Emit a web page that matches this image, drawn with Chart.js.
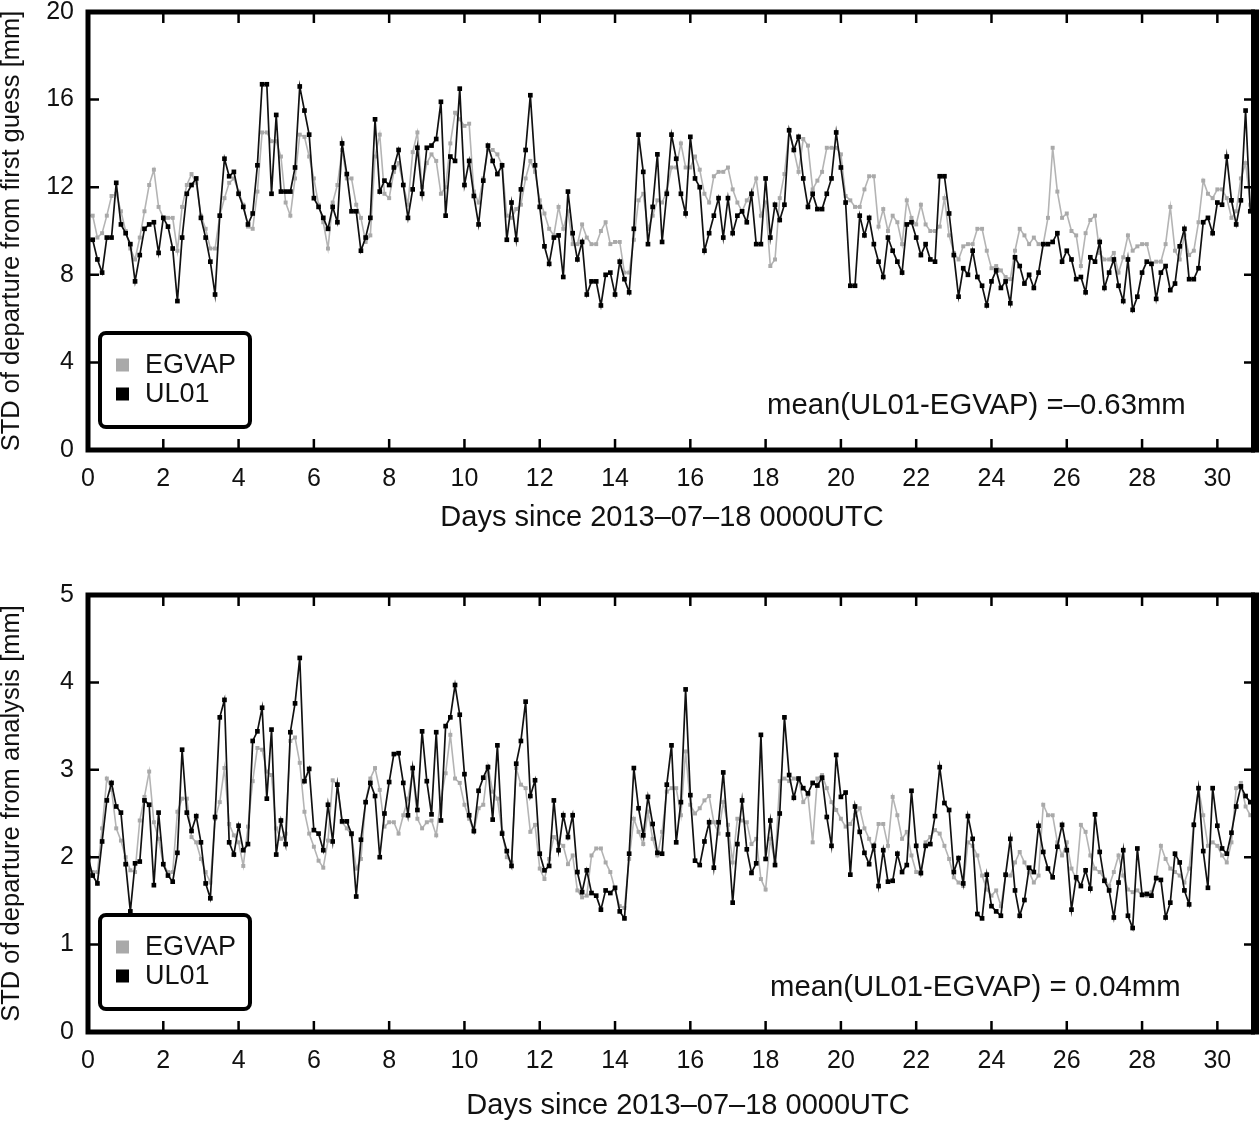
<!DOCTYPE html>
<html>
<head>
<meta charset="utf-8">
<title>STD of departures EGVAP / UL01</title>
<script src="https://cdn.jsdelivr.net/npm/chart.js@4.4.0/dist/chart.umd.min.js"></script>
<style>
  html, body { margin: 0; padding: 0; background: #fff; }
  #wrap { position: relative; width: 1260px; height: 1132px; }
  .panel { position: absolute; left: 0; }
  #p1 { top: 0; }
  #p2 { top: 560px; }
</style>
</head>
<body>
<div id="wrap">
  <div class="panel" id="p1"><canvas id="fgChart" width="1260" height="560"></canvas></div>
  <div class="panel" id="p2"><canvas id="anChart" width="1260" height="572"></canvas></div>
</div>
<script>
// 3-hourly values, first sample at 2013-07-18 00 UTC
const stepDays = 0.125;
const xTicks = [0, 2, 4, 6, 8, 10, 12, 14, 16, 18, 20, 22, 24, 26, 28, 30];

// STD of departure from first guess [mm]
const fgEGVAP = [
  10.7, 10.7, 9.7, 9.9, 10.7, 11.6, 11.7, 10.9, 10.0, 9.2,
  8.7, 9.7, 10.9, 12.1, 12.8, 11.1, 10.6, 10.6, 10.6, 9.1,
  11.1, 12.1, 12.6, 12.2, 10.7, 10.1, 9.2, 9.2, 10.7, 11.5,
  12.2, 12.4, 11.8, 11.2, 10.2, 10.1, 11.8, 14.5, 14.5, 14.1,
  14.1, 13.4, 11.3, 10.7, 12.4, 14.4, 14.3, 13.4, 12.4, 11.2,
  10.4, 9.2, 11.3, 12.1, 13.7, 12.4, 12.4, 11.2, 10.6, 9.5,
  9.8, 13.4, 14.4, 11.7, 11.5,
  12.7, 13.1, 12.1, 11.2, 13.6, 14.5, 12.0, 13.1, 13.5, 13.2,
  11.7, 12.0, 14.0, 15.4, 15.1, 14.8, 14.9, 11.8, 11.3, 12.4,
  13.7, 13.7, 13.5, 13.0, 10.7, 10.6, 11.0, 11.2, 12.4, 13.2,
  12.7, 11.4, 10.8, 10.1, 9.8, 11.1, 10.1, 10.9, 9.4, 9.4,
  10.3, 9.7, 9.4, 9.4, 10.0, 10.4, 9.4, 9.5, 9.5, 8.1,
  8.1, 9.6, 11.4, 11.7, 10.1, 10.7, 11.4, 11.3, 11.8, 12.9,
  12.9, 14.0, 12.9, 12.9,
  13.4, 12.8, 11.7, 11.3, 12.5, 12.7, 12.7, 12.9, 11.9, 11.3,
  10.9, 11.4, 11.7, 12.4, 10.7, 11.3, 8.4, 8.7, 11.5, 12.6,
  14.6, 13.7, 12.7, 14.2, 13.9, 11.9, 12.3, 12.7, 13.8, 13.8,
  13.8, 13.5, 11.6, 11.4, 11.1, 11.1, 11.9, 12.5, 12.5, 10.2,
  11.0, 10.0, 10.7, 10.4, 9.4, 11.4, 10.6, 10.3, 11.2, 10.3,
  10.0, 10.0, 10.2, 11.5, 9.8, 9.0, 8.7, 9.3, 9.4,
  9.4, 10.1, 10.1, 9.1, 8.3, 8.4, 8.2, 7.9, 7.8, 9.1,
  10.1, 9.8, 9.4, 9.7, 9.4, 9.4, 10.6, 13.8, 11.8, 10.6,
  10.8, 10.0, 9.8, 8.4, 9.9, 10.5, 10.7, 9.0, 8.7, 8.7,
  9.0, 8.1, 8.8, 9.8, 9.1, 9.3, 9.4, 9.4, 8.5, 8.6,
  8.6, 9.4, 11.1, 9.1, 8.7, 9.8, 8.9, 9.1, 10.4, 12.3,
  11.7, 11.5, 11.9, 11.9, 11.5, 10.6, 10.9, 12.4, 13.1, 11.2
];
const fgUL01 = [
  9.6, 9.6, 8.7, 8.1, 9.7, 9.7, 12.2, 10.3, 9.9, 9.4,
  7.7, 8.9, 10.1, 10.3, 10.4, 9.0, 10.6, 10.2, 9.2, 6.8,
  9.7, 11.7, 12.1, 12.4, 10.6, 9.7, 8.6, 7.1, 10.7, 13.3,
  12.5, 12.7, 11.7, 11.1, 10.3, 10.8, 13.0, 16.7, 16.7, 11.7,
  15.3, 11.8, 11.8, 11.8, 12.9, 16.6, 15.5, 14.4, 11.5, 11.1,
  10.6, 10.1, 11.1, 10.4, 14.0, 12.6, 10.9, 10.9, 9.1, 9.7,
  10.6, 15.1, 11.8, 12.3, 12.1,
  12.9, 13.7, 12.1, 10.6, 11.9, 13.8, 11.7, 13.8, 13.9, 14.2,
  15.9, 10.7, 13.4, 13.2, 16.5, 12.1, 13.2, 11.6, 10.3, 12.3,
  13.9, 13.2, 12.6, 13.0, 9.6, 11.3, 9.6, 11.9, 13.7, 16.2,
  13.0, 11.1, 9.3, 8.5, 9.7, 9.8, 7.9, 11.8, 9.9, 8.7,
  9.5, 7.1, 7.7, 7.7, 6.6, 8.0, 8.1, 7.1, 8.6, 7.8,
  7.2, 10.1, 14.4, 12.7, 9.4, 11.1, 13.5, 9.5, 11.7, 14.4,
  13.3, 11.7, 10.8, 14.3,
  12.4, 12.0, 9.1, 9.9, 10.7, 11.5, 9.7, 11.5, 9.9, 10.7,
  10.9, 10.4, 11.7, 9.4, 9.4, 12.4, 9.7, 11.2, 10.5, 11.2,
  14.6, 13.7, 14.3, 12.4, 11.1, 11.7, 11.0, 11.0, 11.7, 12.4,
  14.5, 12.9, 11.3, 7.5, 7.5, 10.7, 9.8, 10.6, 9.4, 8.6,
  7.9, 9.7, 9.1, 8.6, 8.1, 10.3, 10.4, 9.7, 8.9, 9.4,
  8.7, 8.6, 12.5, 12.5, 10.8, 8.9, 7.0, 8.3, 8.0,
  9.1, 7.9, 7.5, 6.6, 7.7, 8.2, 7.4, 7.7, 6.7, 8.8,
  8.4, 7.6, 8.0, 7.4, 8.1, 9.4, 9.4, 9.5, 9.9, 8.6,
  9.1, 8.7, 7.8, 7.9, 7.2, 8.8, 8.6, 9.5, 7.4, 8.1,
  8.7, 7.5, 6.8, 8.7, 6.4, 7.0, 8.1, 8.6, 8.5, 6.9,
  8.1, 8.4, 7.3, 7.6, 9.3, 10.1, 7.8, 7.8, 8.3, 10.4,
  10.6, 9.9, 11.3, 11.2, 13.4, 11.4, 10.3, 11.4, 15.5, 10.9
];

// STD of departure from analysis [mm]
const anEGVAP = [
  1.87, 1.83, 1.83, 2.33, 2.90, 2.77, 2.33, 2.19, 2.00, 1.85,
  1.83, 2.42, 2.69, 2.98, 2.40, 2.21, 1.92, 1.83, 1.83, 2.52,
  2.67, 2.67, 2.23, 2.17, 1.98, 1.83, 1.71, 2.44, 2.63, 3.02,
  2.38, 2.25, 2.17, 1.90, 2.35, 2.87, 3.25, 3.23, 2.98, 2.94,
  2.33, 2.21, 2.27, 3.33, 3.37, 3.08, 2.52, 2.27, 2.12, 1.96,
  1.88, 2.19, 2.88, 2.83, 2.40, 2.33, 2.25, 1.87, 1.98, 2.63,
  2.90, 3.02, 2.77, 2.35,
  2.40, 2.40, 2.27, 2.48, 2.67, 2.98, 2.44, 2.33, 2.40, 2.42,
  2.25, 2.67, 2.96, 3.40, 2.90, 2.85, 2.60, 2.44, 2.29, 2.56,
  2.60, 3.04, 2.75, 2.67, 2.29, 2.00, 1.94, 3.02, 2.83, 2.79,
  2.29, 2.37, 1.87, 1.75, 1.98, 2.23, 2.17, 2.13, 1.92, 2.02,
  1.62, 1.54, 1.56, 2.02, 2.10, 2.10, 1.94, 1.83, 1.63, 1.44,
  1.42, 1.98, 2.44, 2.29, 2.15, 2.52, 2.21, 2.02, 2.29, 2.75,
  2.79, 2.79, 2.48, 3.21,
  2.60, 2.50, 2.56, 2.65, 2.70, 2.40, 2.27, 2.63, 2.37, 1.94,
  2.44, 2.42, 2.40, 2.15, 2.21, 1.75, 1.63, 2.21, 1.94, 2.87,
  2.90, 2.87, 2.90, 2.90, 2.63, 2.71, 2.17, 2.90, 2.94, 2.79,
  2.63, 2.54, 2.44, 2.35, 2.38, 2.48, 2.56, 2.33, 2.21, 2.08,
  2.38, 2.38, 2.13, 2.69, 2.48, 2.21, 2.29, 2.02, 1.83, 1.81,
  2.17, 2.23, 2.31, 2.27, 2.13, 1.98, 1.77, 1.71, 1.67, 2.17, 2.13, 2.02,
  1.79, 1.63, 1.56, 1.62, 1.44, 1.79, 1.79, 1.94, 2.06, 1.94,
  1.83, 1.71, 1.79, 2.60, 2.48, 2.48, 2.17, 2.02, 2.17, 1.87,
  1.75, 2.37, 2.29, 2.02, 1.87, 1.83, 1.75, 1.67, 1.83, 2.02,
  1.79, 1.63, 1.60, 1.62, 1.56, 1.56, 1.60, 1.77, 2.13, 1.98,
  1.87, 1.83, 1.79, 1.71, 1.87, 2.38, 2.79, 2.48, 2.13, 2.17,
  2.13, 2.02, 1.94, 2.17, 2.79, 2.85, 2.58, 2.48
];
const anUL01 = [
  2.00, 1.79, 1.70, 2.18, 2.65, 2.85, 2.58, 2.51, 1.92, 1.38,
  1.93, 1.95, 2.65, 2.60, 1.68, 2.51, 1.92, 1.79, 1.72, 2.05,
  3.23, 2.51, 2.30, 2.47, 2.17, 1.70, 1.53, 2.46, 3.60, 3.80,
  2.17, 2.03, 2.36, 2.08, 2.15, 3.33, 3.44, 3.71, 2.67, 3.46,
  2.03, 2.42, 2.15, 3.43, 3.76, 4.28, 2.87, 3.01, 2.31, 2.27,
  2.08, 2.60, 2.18, 2.83, 2.41, 2.41, 2.27, 1.55, 2.20, 2.63,
  2.85, 2.70, 2.00, 2.50,
  2.86, 3.18, 3.19, 2.85, 2.48, 3.02, 2.54, 3.44, 2.87, 2.49,
  3.43, 2.42, 3.50, 3.60, 3.97, 3.63, 2.95, 2.48, 2.30, 2.76,
  2.91, 3.03, 2.43, 3.28, 2.27, 2.07, 1.90, 3.07, 3.33, 3.78,
  2.70, 2.88, 2.04, 1.85, 1.90, 2.65, 2.08, 2.48, 2.23, 2.48,
  1.83, 1.60, 1.85, 1.59, 1.56, 1.40, 1.62, 1.59, 1.65, 1.38,
  1.30, 2.04, 3.02, 2.56, 2.25, 2.69, 2.38, 2.05, 2.04, 2.83,
  3.28, 2.17, 2.63, 3.92,
  2.71, 1.96, 1.91, 2.18, 2.40, 1.88, 2.40, 2.97, 2.26, 1.48,
  2.15, 2.65, 2.09, 1.82, 1.93, 3.40, 1.98, 2.42, 1.91, 2.50,
  3.60, 2.94, 2.68, 2.90, 2.79, 2.73, 2.85, 2.82, 2.91, 2.46,
  2.13, 3.17, 2.69, 2.74, 1.80, 2.58, 2.29, 2.05, 1.92, 2.13,
  1.67, 2.08, 1.72, 1.73, 2.04, 1.83, 1.91, 2.76, 2.13, 1.82,
  2.13, 2.15, 2.47, 3.03, 2.62, 2.54, 1.83, 1.99, 1.70, 2.47, 2.21, 1.35,
  1.30, 1.80, 1.44, 1.38, 1.33, 1.80, 2.21, 1.62, 1.33, 1.51,
  1.88, 1.83, 2.36, 2.06, 1.87, 1.77, 2.12, 2.37, 2.08, 1.40,
  1.77, 1.67, 1.85, 1.64, 2.49, 2.06, 1.73, 1.62, 1.31, 1.71,
  2.08, 1.33, 1.19, 2.10, 1.57, 1.58, 1.56, 1.76, 1.74, 1.31,
  1.48, 2.04, 1.94, 1.62, 1.46, 2.37, 2.79, 2.07, 1.65, 2.79,
  2.36, 2.10, 2.04, 2.28, 2.58, 2.81, 2.70, 2.63
];

const FONT = "'Liberation Sans', Arial, Helvetica, sans-serif";
const GREY = '#a9a9a9';
const BLACK = '#111111';

// turn a value list into {x, y} points on the time axis
function toPoints(values) {
  return values.map((v, i) => ({ x: i * stepDays, y: v }));
}

// frame, inward ticks, legend box, note and x title drawn on top of the data
const paperFrame = {
  id: 'paperFrame',
  afterDatasetsDraw(chart, args, opts) {
    const { ctx, chartArea: a, scales: { x, y } } = chart;
    ctx.save();
    ctx.strokeStyle = '#000';
    ctx.lineCap = 'butt';

    // inward ticks on all four sides
    ctx.lineWidth = 2.5;
    ctx.beginPath();
    xTicks.forEach(v => {
      const px = x.getPixelForValue(v);
      ctx.moveTo(px, a.bottom); ctx.lineTo(px, a.bottom - 11);
      ctx.moveTo(px, a.top); ctx.lineTo(px, a.top + 11);
    });
    y.ticks.forEach(t => {
      const py = y.getPixelForValue(t.value);
      ctx.moveTo(a.left, py); ctx.lineTo(a.left + 11, py);
      ctx.moveTo(a.right, py); ctx.lineTo(a.right - 11, py);
    });
    ctx.stroke();

    // box round the plot
    ctx.lineWidth = 5;
    ctx.beginPath();
    ctx.moveTo(a.right, a.bottom);
    ctx.lineTo(a.left, a.bottom);
    ctx.lineTo(a.left, a.top);
    ctx.lineTo(a.right, a.top);
    ctx.stroke();
    ctx.lineWidth = 8;
    ctx.beginPath();
    ctx.moveTo(a.right, a.top - 2.5);
    ctx.lineTo(a.right, a.bottom + 2.5);
    ctx.stroke();

    // legend
    const bx = a.left + 12, by = a.bottom - 117, bw = 150, bh = 94;
    ctx.fillStyle = '#fff';
    ctx.lineWidth = 4;
    ctx.beginPath();
    ctx.roundRect(bx, by, bw, bh, 6);
    ctx.fill();
    ctx.stroke();
    const items = [['EGVAP', '#a9a9a9'], ['UL01', '#000']];
    ctx.font = '27px ' + FONT;
    ctx.textBaseline = 'middle';
    ctx.textAlign = 'left';
    items.forEach(([label, col], i) => {
      const cy = by + 32 + i * 29;
      ctx.fillStyle = col;
      ctx.fillRect(bx + 16, cy - 6.5, 13, 13);
      ctx.fillStyle = '#111';
      ctx.fillText(label, bx + 45, cy + 1);
    });

    // mean difference note
    ctx.font = '29.3px ' + FONT;
    ctx.fillStyle = '#111';
    ctx.fillText(opts.note, opts.noteX, a.bottom - opts.noteDy);

    // x axis title
    ctx.font = '29px ' + FONT;
    ctx.textAlign = 'center';
    ctx.fillText('Days since 2013\u201307\u201318 0000UTC', opts.titleX, a.bottom + opts.titleDy);
    ctx.restore();
  }
};

function makeChart(canvasId, egvap, ul01, yMax, yStep, yTitle, opts) {
  const ctx = document.getElementById(canvasId).getContext('2d');
  return new Chart(ctx, {
    type: 'line',
    data: {
      datasets: [
        {
          label: 'EGVAP',
          data: toPoints(egvap),
          borderColor: '#b4b4b4',
          backgroundColor: GREY,
          borderWidth: 1.6,
          pointStyle: 'rect',
          pointRadius: 2.8,
          pointBorderWidth: 0,
          tension: 0,
          order: 2
        },
        {
          label: 'UL01',
          data: toPoints(ul01),
          borderColor: BLACK,
          backgroundColor: '#000',
          borderWidth: 1.7,
          pointStyle: 'rect',
          pointRadius: 3.3,
          pointBorderWidth: 0,
          tension: 0,
          order: 1
        }
      ]
    },
    options: {
      responsive: false,
      animation: false,
      devicePixelRatio: 1,
      layout: { padding: opts.padding },
      plugins: {
        legend: { display: false },
        tooltip: { enabled: false },
        paperFrame: opts
      },
      scales: {
        x: {
          type: 'linear',
          min: 0,
          max: 31,
          grid: { display: false, drawTicks: false },
          border: { display: false },
          ticks: {
            stepSize: 2,
            includeBounds: false,
            autoSkip: false,
            maxRotation: 0,
            padding: 14,
            color: '#111',
            font: { family: FONT, size: 25 }
          },
          afterFit(s) { s.height = 60; s.paddingLeft = 0; s.paddingRight = 0; }
        },
        y: {
          min: 0,
          max: yMax,
          grid: { display: false, drawTicks: false },
          border: { display: false },
          ticks: {
            stepSize: yStep,
            padding: 14,
            color: '#111',
            font: { family: FONT, size: 25 }
          },
          title: {
            display: true,
            text: yTitle,
            color: '#111',
            padding: 0,
            font: { family: FONT, size: 25.5, lineHeight: 0.9 }
          },
          afterFit(s) { s.width = 88; s.paddingTop = 0; s.paddingBottom = 0; }
        }
      }
    },
    plugins: [paperFrame]
  });
}

makeChart('fgChart', fgEGVAP, fgUL01, 20, 4, 'STD of departure from first guess [mm]', {
  padding: { left: 0, right: 5, top: 12, bottom: 50 },
  note: 'mean(UL01-EGVAP) =\u20130.63mm',
  noteX: 767, noteDy: 44,
  titleX: 662, titleDy: 68
});

makeChart('anChart', anEGVAP, anUL01, 5, 1, 'STD of departure from analysis [mm]', {
  padding: { left: 0, right: 5, top: 35, bottom: 40 },
  note: 'mean(UL01-EGVAP) = 0.04mm',
  noteX: 770, noteDy: 44,
  titleX: 688, titleDy: 74
});
</script>
</body>
</html>
